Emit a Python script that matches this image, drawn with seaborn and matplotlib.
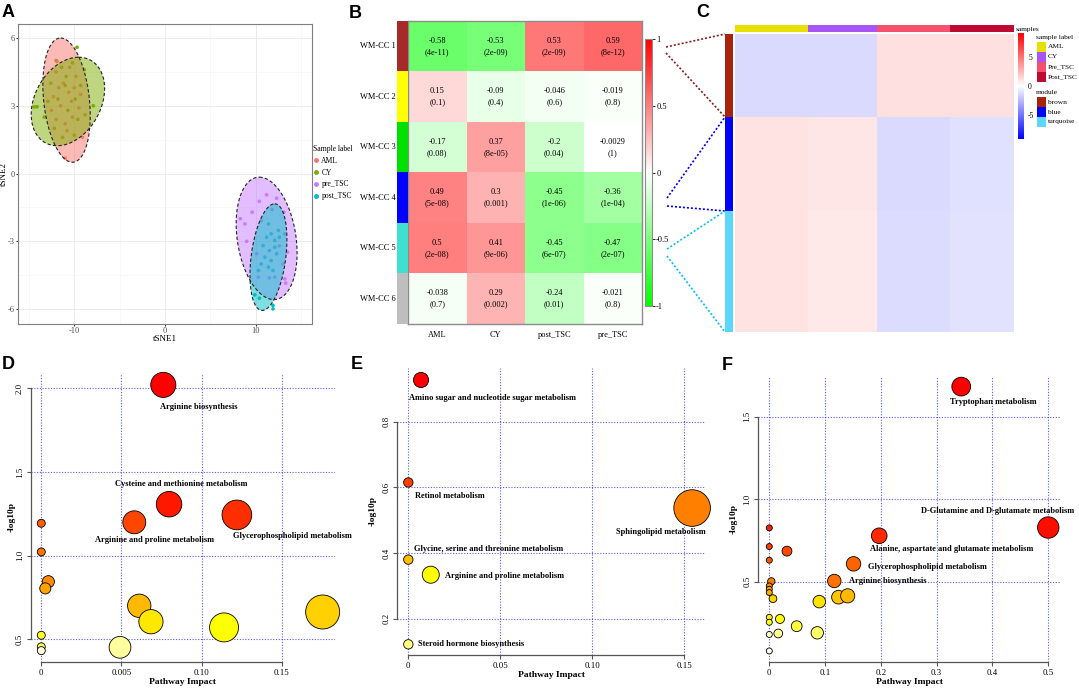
"""Six-panel figure: tSNE clusters, module-trait heatmap, expression heatmap, pathway bubbles."""

import colorsys

import matplotlib

matplotlib.use("Agg")
import matplotlib.pyplot as plt
import numpy as np
import pandas as pd
import seaborn as sns
from matplotlib.colors import LinearSegmentedColormap, ListedColormap
from matplotlib.lines import Line2D
from matplotlib.patches import Rectangle

W, H = 1079, 688

# ---------------- A: tSNE ----------------
tsne_groups = ["AML", "CY", "pre_TSC", "post_TSC"]
tsne_colors = ["#F8766D", "#7CAE00", "#C77CFF", "#00BFC4"]
aml_x = [-11.9, -11.0, -9.1, -12.0, -10.5, -11.2, -10.0, -12.3, -11.5, -10.3, -9.5, -12.0, -11.0, -10.2, -9.8,
         -11.7, -10.8, -9.3, -12.5, -10.6]
aml_y = [4.96, 0.68, 1.61, 4.5, 4.7, 4.0, 3.8, 3.4, 3.0, 3.2, 2.9, 2.4, 2.2, 2.5, 4.3, 3.8, 1.9, 3.5, 2.8, 3.6]
cy_x = [-9.7, -7.9, -14.1, -14.4, -11.4, -10.2, -12.6, -10.9, -9.3, -12.9, -11.8, -10.7, -9.6, -12.2, -11.3,
        -10.0, -8.8, -13.3, -11.0, -9.9, -12.0, -8.9]
cy_y = [5.59, 3.0, 2.96, 2.95, 4.7, 4.9, 4.0, 4.3, 3.9, 3.2, 3.3, 2.8, 2.4, 2.0, 1.6, 1.7, 2.6, 2.5, 3.9, 3.3,
        5.0, 4.6]
pre_x = [11.2, 12.3, 10.4, 8.3, 8.8, 9.6, 9.0, 13.1, 13.5, 13.2, 13.3, 11.5, 10.3, 12.1, 13.0, 10.1, 10.6, 13.2,
         11.8, 12.6]
pre_y = [-0.94, -1.09, -1.23, -2.0, -2.23, -1.71, -3.0, -1.71, -3.48, -4.66, -4.85, -4.62, -4.59, -4.59, -4.0,
         -3.55, -2.08, -2.67, -1.6, -3.2]
post_x = [9.9, 10.4, 11.9, 11.9, 11.4, 11.7, 11.2, 12.1, 10.8, 11.5, 12.3, 11.0, 11.7, 10.6, 11.4, 12.1, 12.5,
          12.6, 10.3, 11.9]
post_y = [-5.37, -5.52, -5.84, -5.99, -2.23, -2.67, -2.82, -2.96, -3.19, -3.41, -3.55, -3.70, -3.85, -4.0, -4.14,
          -3.26, -2.52, -2.82, -4.29, -4.29]
# confidence ellipses: centre, semi-diameter towards the top, half-width of horizontal chord
ell_cx = [-10.85, -10.7, 11.2, 11.4]
ell_cy = [3.25, 3.19, -2.87, -3.7]
ell_ax = [-0.65, 1.18, -0.8, 0.68]
ell_ay = [2.75, 1.96, 2.71, 2.36]
ell_b = [2.53, 3.87, 3.26, 1.92]

# ---------------- B: module-trait correlation ----------------
b_modules = ["WM-CC 1", "WM-CC 2", "WM-CC 3", "WM-CC 4", "WM-CC 5", "WM-CC 6"]
b_module_colors = ["#A52A2A", "#FFFF00", "#00E000", "#0000FF", "#40E0D0", "#BEBEBE"]
b_traits = ["AML", "CY", "post_TSC", "pre_TSC"]
b_cor = [
    [-0.58, -0.53, 0.53, 0.59],
    [0.15, -0.09, -0.046, -0.019],
    [-0.17, 0.37, -0.2, -0.0029],
    [0.49, 0.3, -0.45, -0.36],
    [0.5, 0.41, -0.45, -0.47],
    [-0.038, 0.29, -0.24, -0.021],
]
b_pval = [
    ["4e-11", "2e-09", "2e-09", "8e-12"],
    ["0.1", "0.4", "0.6", "0.8"],
    ["0.08", "8e-05", "0.04", "1"],
    ["5e-08", "0.001", "1e-06", "1e-04"],
    ["2e-08", "9e-06", "6e-07", "2e-07"],
    ["0.7", "0.002", "0.01", "0.8"],
]

# ---------------- C: module expression heatmap (block means) ----------------
c_groups = ["AML", "CY", "Pre_TSC", "Post_TSC"]
c_group_colors = ["#E6E000", "#A855F7", "#F5506E", "#BE0A32"]
c_group_n = [30, 28, 30, 26]
c_modules = ["brown", "blue", "turquoise"]
c_module_colors = ["#A8230A", "#0000FF", "#5AD7FA"]
c_module_n = [83, 94, 121]
c_block_mean = [
    [-1.3, -1.3, 1.1, 1.1],
    [1.0, 0.9, -1.3, -1.1],
    [1.0, 0.8, -1.2, -1.0],
]

# ---------------- D/E/F: pathway analysis ----------------
d_impact = [0.0761, 0.0797, 0.058, 0.122, 0, 0, 0.0044, 0.0025, 0, 0, 0, 0.0491, 0.0611, 0.0684, 0.114, 0.1755]
d_logp = [2.02, 1.307, 1.199, 1.243, 1.193, 1.022, 0.844, 0.804, 0.524, 0.455, 0.432, 0.452, 0.700, 0.605,
          0.571, 0.663]
d_names = ["Arginine biosynthesis", "Cysteine and methionine metabolism", "Arginine and proline metabolism",
           "Glycerophospholipid metabolism"] + [""] * 12

e_impact = [0.0069, 0, 0.1543, 0, 0.0122, 0]
e_logp = [0.927, 0.615, 0.537, 0.380, 0.334, 0.122]
e_names = ["Amino sugar and nucleotide sugar metabolism", "Retinol metabolism", "Sphingolipid metabolism",
           "Glycine, serine and threonine metabolism", "Arginine and proline metabolism",
           "Steroid hormone biosynthesis"]

f_impact = [0.344, 0.5, 0.197, 0.151, 0.1165, 0, 0, 0.0317, 0, 0.0036, 0, 0, 0, 0.0066, 0.0896, 0.124, 0.1405,
            0, 0, 0.0191, 0.0491, 0.086, 0.0161, 0, 0]
f_logp = [1.682, 0.828, 0.778, 0.608, 0.504, 0.826, 0.713, 0.685, 0.630, 0.502, 0.474, 0.454, 0.434, 0.397,
          0.379, 0.406, 0.414, 0.284, 0.254, 0.274, 0.230, 0.190, 0.186, 0.180, 0.080]
f_names = ["Tryptophan metabolism", "D-Glutamine and D-glutamate metabolism",
           "Alanine, aspartate and glutamate metabolism", "Glycerophospholipid metabolism",
           "Arginine biosynthesis"] + [""] * 20

plt.rcParams["font.family"] = "serif"
plt.rcParams["font.serif"] = ["Liberation Serif", "DejaVu Serif"]
plt.rcParams["axes.unicode_minus"] = False

SANS = "Liberation Sans"


def rect(left, top, right, bottom):
    return [left / W, 1 - bottom / H, (right - left) / W, (bottom - top) / H]


def fxy(x, y):
    return x / W, 1 - y / H


def panel_letter(fig, x, y, letter):
    fig.text(*fxy(x, y), letter, family=SANS, fontweight="bold", fontsize=13, va="top", ha="left")


def heat_colors(n):
    # R's heat.colors(n)
    j = n // 4
    i = n - j
    cols = [colorsys.hsv_to_rgb(h, 1, 1) for h in np.linspace(0, 1 / 6, i)]
    if j > 0:
        cols += [colorsys.hsv_to_rgb(1 / 6, s, 1) for s in np.linspace(1 - 1 / (2 * j), 1 / (2 * j), j)]
    return cols


def plot_pathway(ax, impact, logp, names, offsets, *, r_range, xlim, ylim, xticks, xticklabels, yticks,
                 ylabelpad=4):
    df = pd.DataFrame({"impact": impact, "logp": logp, "name": names})
    df["rank"] = df["logp"].rank(ascending=False, method="first").astype(int)
    rmin, rmax = r_range
    radius = rmin + (rmax - rmin) * np.sqrt(df["impact"] / df["impact"].max())
    df["area"] = (2 * radius * 0.72) ** 2
    pal = dict(zip(range(1, len(df) + 1), heat_colors(len(df))))
    sns.scatterplot(data=df, x="impact", y="logp", hue="rank", palette=pal, size="area",
                    sizes=(df["area"].min(), df["area"].max()), edgecolor="black", linewidth=0.6,
                    legend=False, ax=ax, zorder=3, clip_on=False)
    for _, row in df[df["name"] != ""].iterrows():
        dx, dy = offsets[row["name"]]
        ax.annotate(row["name"], (row["impact"], row["logp"]), xytext=(dx * 0.72, -dy * 0.72),
                    textcoords="offset points", ha="center", va="center", fontsize=6,
                    fontweight="bold", zorder=5, annotation_clip=False)
    ax.set_xlim(*xlim)
    ax.set_ylim(*ylim)
    ax.set_xticks(xticks, xticklabels)
    ax.set_yticks(yticks, [f"{v:.1f}" for v in yticks], rotation=90, va="center")
    ax.tick_params(labelsize=6.3, length=3, width=0.8, color="#555555", pad=2)
    ax.grid(True, color="#0000FF", alpha=0.65, lw=0.8, ls=(0, (1, 1.5)))
    ax.set_axisbelow(True)
    for side in ("top", "right"):
        ax.spines[side].set_visible(False)
    for side in ("left", "bottom"):
        ax.spines[side].set_color("#555555")
        ax.spines[side].set_linewidth(0.9)
    ax.spines["left"].set_bounds(yticks[0], yticks[-1])
    ax.spines["bottom"].set_bounds(xticks[0], xticks[-1])
    ax.set_xlabel("Pathway Impact", fontweight="bold", fontsize=6.8, labelpad=1)
    ax.set_ylabel("-log10p", fontweight="bold", fontsize=6.8, labelpad=ylabelpad)
    ax.patch.set_visible(False)


fig = plt.figure(figsize=(W / 100, H / 100), dpi=100)

# ---------------- panel A ----------------
ax_a = fig.add_axes(rect(18, 24, 312, 324))
tsne = pd.concat([
    pd.DataFrame({"tSNE1": xs, "tSNE2": ys, "group": g})
    for g, xs, ys in zip(tsne_groups, [aml_x, cy_x, pre_x, post_x], [aml_y, cy_y, pre_y, post_y])
], ignore_index=True)
sns.scatterplot(data=tsne, x="tSNE1", y="tSNE2", hue="group", hue_order=tsne_groups, palette=tsne_colors,
                s=7, linewidth=0, legend=False, ax=ax_a, zorder=2)
t = np.linspace(0, 2 * np.pi, 240)
for i, color in enumerate(tsne_colors):
    ex = ell_cx[i] + ell_ax[i] * np.cos(t) + ell_b[i] * np.sin(t)
    ey = ell_cy[i] + ell_ay[i] * np.cos(t)
    ax_a.fill(ex, ey, color=color, alpha=0.5, lw=0, zorder=3)
    ax_a.plot(ex, ey, color="#222222", lw=0.8, ls=(0, (3, 2)), zorder=4)
ax_a.set_xlim(-16.2, 16.2)
ax_a.set_ylim(-6.66, 6.62)
ax_a.set_xticks([-10, 0, 10])
ax_a.set_xticks([-15, -5, 5, 15], minor=True)
ax_a.set_yticks([-6, -3, 0, 3, 6])
ax_a.set_yticks([-4.5, -1.5, 1.5, 4.5], minor=True)
ax_a.grid(True, which="major", color="#EBEBEB", lw=0.7)
ax_a.grid(True, which="minor", color="#F3F3F3", lw=0.4)
ax_a.set_axisbelow(True)
ax_a.tick_params(which="major", labelsize=6, labelcolor="#4D4D4D", length=1.5, color="#333333", pad=1)
ax_a.tick_params(which="minor", length=0)
for s in ax_a.spines.values():
    s.set_color("#7F7F7F")
    s.set_linewidth(0.8)
ax_a.set_xlabel("tSNE1", fontsize=6.5, labelpad=0)
ax_a.set_ylabel("tSNE2", fontsize=6.5, labelpad=0)
handles = [Line2D([], [], marker="o", ls="", color=c, markersize=2.5, label=g)
           for g, c in zip(tsne_groups, tsne_colors)]
ax_a.legend(handles=handles, title="Sample label", loc="upper left", bbox_to_anchor=fxy(313, 145),
            bbox_transform=fig.transFigure, frameon=False, fontsize=5.5, title_fontsize=5.5,
            handlelength=0.8, handletextpad=0.3, labelspacing=0.5, alignment="left",
            borderaxespad=0, borderpad=0)
panel_letter(fig, 2, 4, "A")

# ---------------- panel B ----------------
gwr = LinearSegmentedColormap.from_list("gwr", ["#00FF00", "#FFFFFF", "#FF0000"])
ax_b = fig.add_axes(rect(408, 21, 642, 324))
cax_b = fig.add_axes(rect(645, 39, 652, 306))
cor_df = pd.DataFrame(b_cor, index=b_modules, columns=b_traits)
annot = np.array([[f"{v:g}\n({p})" for v, p in zip(rv, rp)] for rv, rp in zip(b_cor, b_pval)])
sns.heatmap(cor_df, ax=ax_b, cmap=gwr, vmin=-1, vmax=1, annot=annot, fmt="",
            annot_kws={"size": 6, "color": "black", "linespacing": 1.5}, cbar_ax=cax_b,
            xticklabels=True, yticklabels=False)
ax_b.tick_params(axis="x", length=0, labelsize=6, rotation=0, pad=5)
for s in ax_b.spines.values():
    s.set_visible(True)
    s.set_color("#8C8C8C")
    s.set_linewidth(1)
cbar_b = ax_b.collections[0].colorbar
cbar_b.set_ticks([-1, -0.5, 0, 0.5, 1], labels=["-1", "-0.5", "0", "0.5", "1"])
cbar_b.ax.tick_params(labelsize=6, length=2, width=0.6, pad=1)
cbar_b.outline.set_edgecolor("#8C8C8C")
cbar_b.outline.set_linewidth(0.8)

ax_bm = fig.add_axes(rect(397, 21, 408, 324))
sns.heatmap(np.arange(len(b_modules))[:, None], cmap=ListedColormap(b_module_colors), cbar=False,
            xticklabels=False, yticklabels=b_modules, ax=ax_bm)
ax_bm.tick_params(axis="y", length=0, labelsize=6, rotation=0, pad=1)
panel_letter(fig, 349, 5, "B")

# ---------------- panel C ----------------
bwr = LinearSegmentedColormap.from_list("bwr2", ["#0000FF", "#FFFFFF", "#FF0000"])
expr = np.repeat(np.repeat(np.array(c_block_mean), c_module_n, axis=0), c_group_n, axis=1)
ax_c = fig.add_axes(rect(735, 34, 1014, 332))
cax_c = fig.add_axes(rect(1018, 33, 1024, 139))
sns.heatmap(expr, ax=ax_c, cmap=bwr, vmin=-9, vmax=9, cbar_ax=cax_c, xticklabels=False, yticklabels=False)
cbar_c = ax_c.collections[0].colorbar
cbar_c.set_ticks([-5, 0, 5], labels=["-5", "0", "5"])
cbar_c.ax.tick_params(labelsize=5.5, length=0, pad=3)
cbar_c.outline.set_visible(False)

ax_ct = fig.add_axes(rect(735, 25, 1014, 32))
sns.heatmap(np.repeat(np.arange(len(c_groups)), c_group_n)[None, :], cmap=ListedColormap(c_group_colors),
            cbar=False, xticklabels=False, yticklabels=False, ax=ax_ct)
ax_cm = fig.add_axes(rect(725, 34, 733, 332))
sns.heatmap(np.repeat(np.arange(len(c_modules)), c_module_n)[:, None], cmap=ListedColormap(c_module_colors),
            cbar=False, xticklabels=False, yticklabels=False, ax=ax_cm)

LEG = 5.3
fig.text(*fxy(1016, 29), "samples", fontsize=LEG, va="center", ha="left")
fig.text(*fxy(1036, 37), "sample label", fontsize=LEG, va="center", ha="left")
for i, (name, color) in enumerate(zip(c_groups, c_group_colors)):
    fig.add_artist(Rectangle(fxy(1037, 52 + 10 * i), 9 / W, 10 / H, transform=fig.transFigure,
                             facecolor=color, edgecolor="none"))
    fig.text(*fxy(1048, 47 + 10 * i), name, fontsize=LEG, va="center", ha="left")
fig.text(*fxy(1036, 92), "module", fontsize=LEG, va="center", ha="left")
for i, (name, color) in enumerate(zip(c_modules, c_module_colors)):
    fig.add_artist(Rectangle(fxy(1037, 107 + 10 * i), 9 / W, 10 / H, transform=fig.transFigure,
                             facecolor=color, edgecolor="none"))
    fig.text(*fxy(1048, 102 + 10 * i), name, fontsize=LEG, va="center", ha="left")

# dotted connectors from B rows to C module blocks
connectors = [
    ((666, 47), (725, 34), "#8B1A1A"), ((666, 53), (725, 117), "#8B1A1A"),
    ((667, 198), (725, 117), "#0000FF"), ((667, 206), (725, 211), "#0000FF"),
    ((667, 249), (725, 211), "#00BFFF"), ((667, 256), (725, 332), "#00BFFF"),
]
for (x1, y1), (x2, y2), color in connectors:
    fig.add_artist(Line2D([x1 / W, x2 / W], [1 - y1 / H, 1 - y2 / H], transform=fig.transFigure,
                          color=color, lw=1.2, ls=(0, (1.2, 1.2))))
panel_letter(fig, 696, 4, "C")

# ---------------- panels D, E, F ----------------
ax_d = fig.add_axes(rect(30.7, 373, 335, 661.7))
plot_pathway(
    ax_d, d_impact, d_logp, d_names,
    {"Arginine biosynthesis": (35, 22), "Cysteine and methionine metabolism": (12, -20),
     "Arginine and proline metabolism": (20, 18), "Glycerophospholipid metabolism": (56, 21)},
    r_range=(4, 17), xlim=(-0.0066, 0.1832), ylim=(0.366, 2.091),
    xticks=[0, 0.05, 0.10, 0.15], xticklabels=["0", "0.005", "0.10", "0.15"], yticks=[0.5, 1.0, 1.5, 2.0],
    ylabelpad=0,
)
panel_letter(fig, 2, 356, "D")

ax_e = fig.add_axes(rect(397.3, 368, 705, 655))
plot_pathway(
    ax_e, e_impact, e_logp, e_names,
    {"Amino sugar and nucleotide sugar metabolism": (71.5, 17.7), "Retinol metabolism": (41.5, 14),
     "Sphingolipid metabolism": (-31.5, 24.4), "Glycine, serine and threonine metabolism": (80.6, -11),
     "Arginine and proline metabolism": (73.5, 1.7), "Steroid hormone biosynthesis": (62.8, 0)},
    r_range=(4.7, 18.3), xlim=(-0.006, 0.1613), ylim=(0.0895, 0.9635),
    xticks=[0, 0.05, 0.10, 0.15], xticklabels=["0", "0.05", "0.10", "0.15"], yticks=[0.2, 0.4, 0.6, 0.8],
)
panel_letter(fig, 351, 356, "E")

ax_f = fig.add_axes(rect(758.3, 376.7, 1060, 661.7))
plot_pathway(
    ax_f, f_impact, f_logp, f_names,
    {"Tryptophan metabolism": (32, 15.6), "D-Glutamine and D-glutamate metabolism": (-51, -17),
     "Alanine, aspartate and glutamate metabolism": (72, 13), "Glycerophospholipid metabolism": (74, 3),
     "Arginine biosynthesis": (53, 0)},
    r_range=(3, 10.7), xlim=(-0.0197, 0.521), ylim=(0.015, 1.742),
    xticks=[0, 0.1, 0.2, 0.3, 0.4, 0.5], xticklabels=["0", "0.1", "0.2", "0.3", "0.4", "0.5"],
    yticks=[0.5, 1.0, 1.5],
)
panel_letter(fig, 722, 357, "F")

fig.savefig("out.png", dpi=100)
